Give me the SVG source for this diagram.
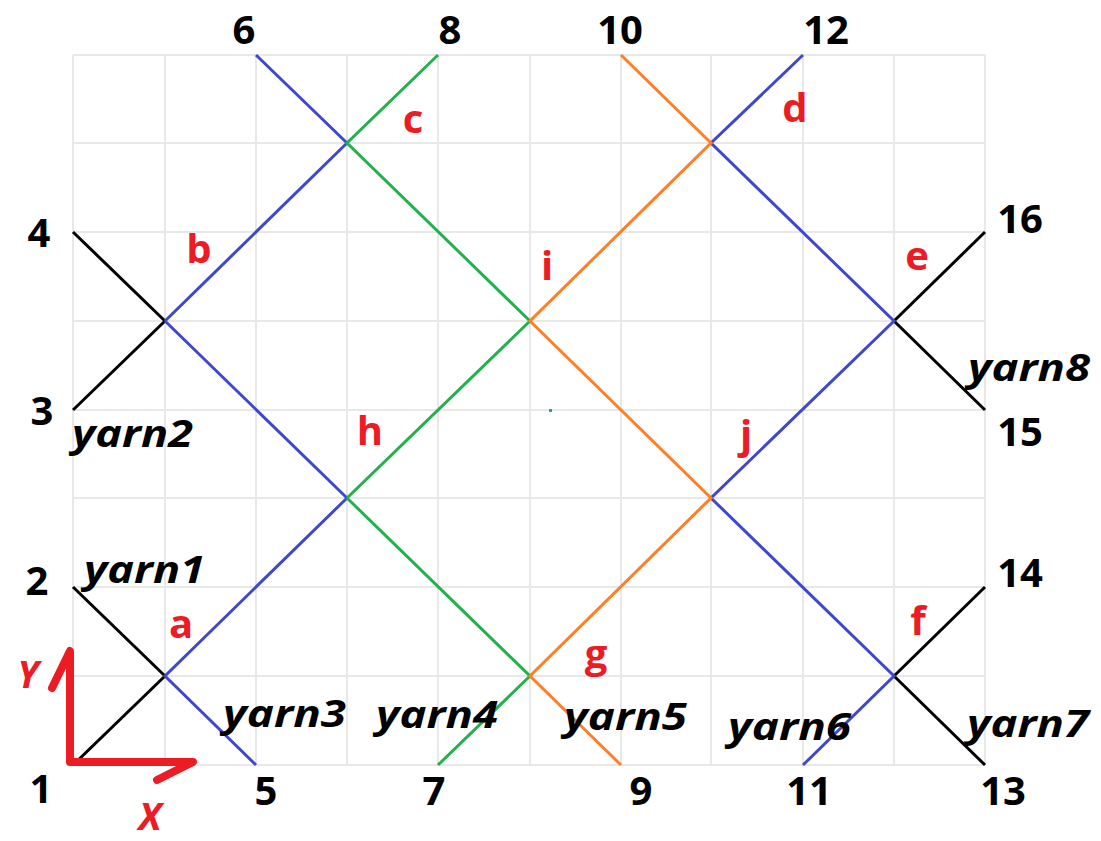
<svg xmlns="http://www.w3.org/2000/svg" width="1101" height="841" viewBox="0 0 1101 841">
<style>
.grid line{stroke:#e8e8e8;stroke-width:2}
.k{stroke:#000;stroke-width:3;fill:none}
.b{stroke:#3f48cc;stroke-width:3;fill:none}
.g{stroke:#22b14c;stroke-width:3;fill:none}
.o{stroke:#ff7f27;stroke-width:3;fill:none}
.num{font-family:"Open Sans","Noto Sans",sans-serif;font-weight:bold;font-size:40px;fill:#000;text-anchor:middle}
.pt{font-family:"Open Sans","Noto Sans",sans-serif;font-weight:bold;font-size:40px;fill:#ed1c24;text-anchor:middle}
.yarn{font-family:"Open Sans","Noto Sans",sans-serif;font-weight:bold;font-style:italic;font-size:37px;fill:#000}
.ax{stroke:#ed1c24;stroke-width:8;stroke-linecap:round;stroke-linejoin:round;fill:none}
.axl{font-family:"Open Sans","Noto Sans",sans-serif;font-weight:bold;font-style:italic;font-size:38px;fill:#ed1c24;text-anchor:middle}
</style>
<rect width="1101" height="841" fill="#fff"/>
<g id="grid" class="grid">
<line x1="73" y1="55" x2="73" y2="765"/><line x1="165" y1="55" x2="165" y2="765"/><line x1="256" y1="55" x2="256" y2="765"/><line x1="347" y1="55" x2="347" y2="765"/><line x1="438" y1="55" x2="438" y2="765"/><line x1="530" y1="55" x2="530" y2="765"/><line x1="621" y1="55" x2="621" y2="765"/><line x1="711" y1="55" x2="711" y2="765"/><line x1="803" y1="55" x2="803" y2="765"/><line x1="894" y1="55" x2="894" y2="765"/><line x1="985" y1="55" x2="985" y2="765"/>
<line x1="73" y1="55" x2="985" y2="55"/><line x1="73" y1="143" x2="985" y2="143"/><line x1="73" y1="232" x2="985" y2="232"/><line x1="73" y1="321" x2="985" y2="321"/><line x1="73" y1="410" x2="985" y2="410"/><line x1="73" y1="498" x2="985" y2="498"/><line x1="73" y1="587" x2="985" y2="587"/><line x1="73" y1="676" x2="985" y2="676"/><line x1="73" y1="765" x2="985" y2="765"/>
</g>
<g id="connectors">
<path class="k" d="M73 587L165 676M73 765L165 676M73 232L165 321M73 410L165 321M985 232L894 321M985 410L894 321M985 587L894 676M985 765L894 676"/>
<path class="b" d="M256 765L165 676L347 498M165 321L347 143M165 321L347 498M256 55L347 143M803 55L711 143L894 321L711 498L894 676L803 765"/>
<path class="g" d="M438 55L347 143L530 321M347 498L530 321M347 498L530 676L438 765"/>
<path class="o" d="M621 55L711 143L530 321L711 498L530 676L621 765"/>
<rect x="549" y="409" width="3" height="3" fill="#22b14c"/>
</g>
<g id="endpoints">
<text class="num" x="244" y="44">6</text>
<text class="num" x="450" y="44">8</text>
<text class="num" x="620" y="44">10</text>
<text class="num" x="826" y="44">12</text>
<text class="num" x="39" y="247">4</text>
<text class="num" x="42" y="425">3</text>
<text class="num" x="37" y="595">2</text>
<text class="num" x="41" y="803">1</text>
<text class="num" x="266" y="805">5</text>
<text class="num" x="434" y="805">7</text>
<text class="num" x="641" y="805">9</text>
<text class="num" x="809" y="805">11</text>
<text class="num" x="1003" y="805">13</text>
<text class="num" x="1020" y="233">16</text>
<text class="num" x="1020" y="446">15</text>
<text class="num" x="1020" y="587">14</text>
</g>
<g id="points">
<text class="pt" x="413" y="133">c</text>
<text class="pt" x="199" y="263">b</text>
<text class="pt" x="795" y="122">d</text>
<text class="pt" x="547" y="280">i</text>
<text class="pt" x="917" y="270">e</text>
<text class="pt" x="370" y="445">h</text>
<text class="pt" x="746" y="449">j</text>
<text class="pt" x="181" y="638">a</text>
<text class="pt" x="596" y="668">g</text>
<text class="pt" x="918" y="635">f</text>
</g>
<g id="yarns">
<text class="yarn" x="72" y="447" textLength="121" lengthAdjust="spacingAndGlyphs">yarn2</text>
<text class="yarn" x="84" y="583" textLength="121" lengthAdjust="spacingAndGlyphs">yarn1</text>
<text class="yarn" x="223" y="727" textLength="123" lengthAdjust="spacingAndGlyphs">yarn3</text>
<text class="yarn" x="376" y="728" textLength="122" lengthAdjust="spacingAndGlyphs">yarn4</text>
<text class="yarn" x="564" y="730" textLength="123" lengthAdjust="spacingAndGlyphs">yarn5</text>
<text class="yarn" x="728" y="740" textLength="123" lengthAdjust="spacingAndGlyphs">yarn6</text>
<text class="yarn" x="967" y="737" textLength="122" lengthAdjust="spacingAndGlyphs">yarn7</text>
<text class="yarn" x="968" y="381" textLength="122" lengthAdjust="spacingAndGlyphs">yarn8</text>
</g>
<g id="axes">
<path class="ax" d="M52 688L70 651L70 762L193 762L157 780"/>
<text class="axl" x="28" y="688">Y</text>
<text class="axl" x="150" y="830">X</text>
</g>
</svg>
